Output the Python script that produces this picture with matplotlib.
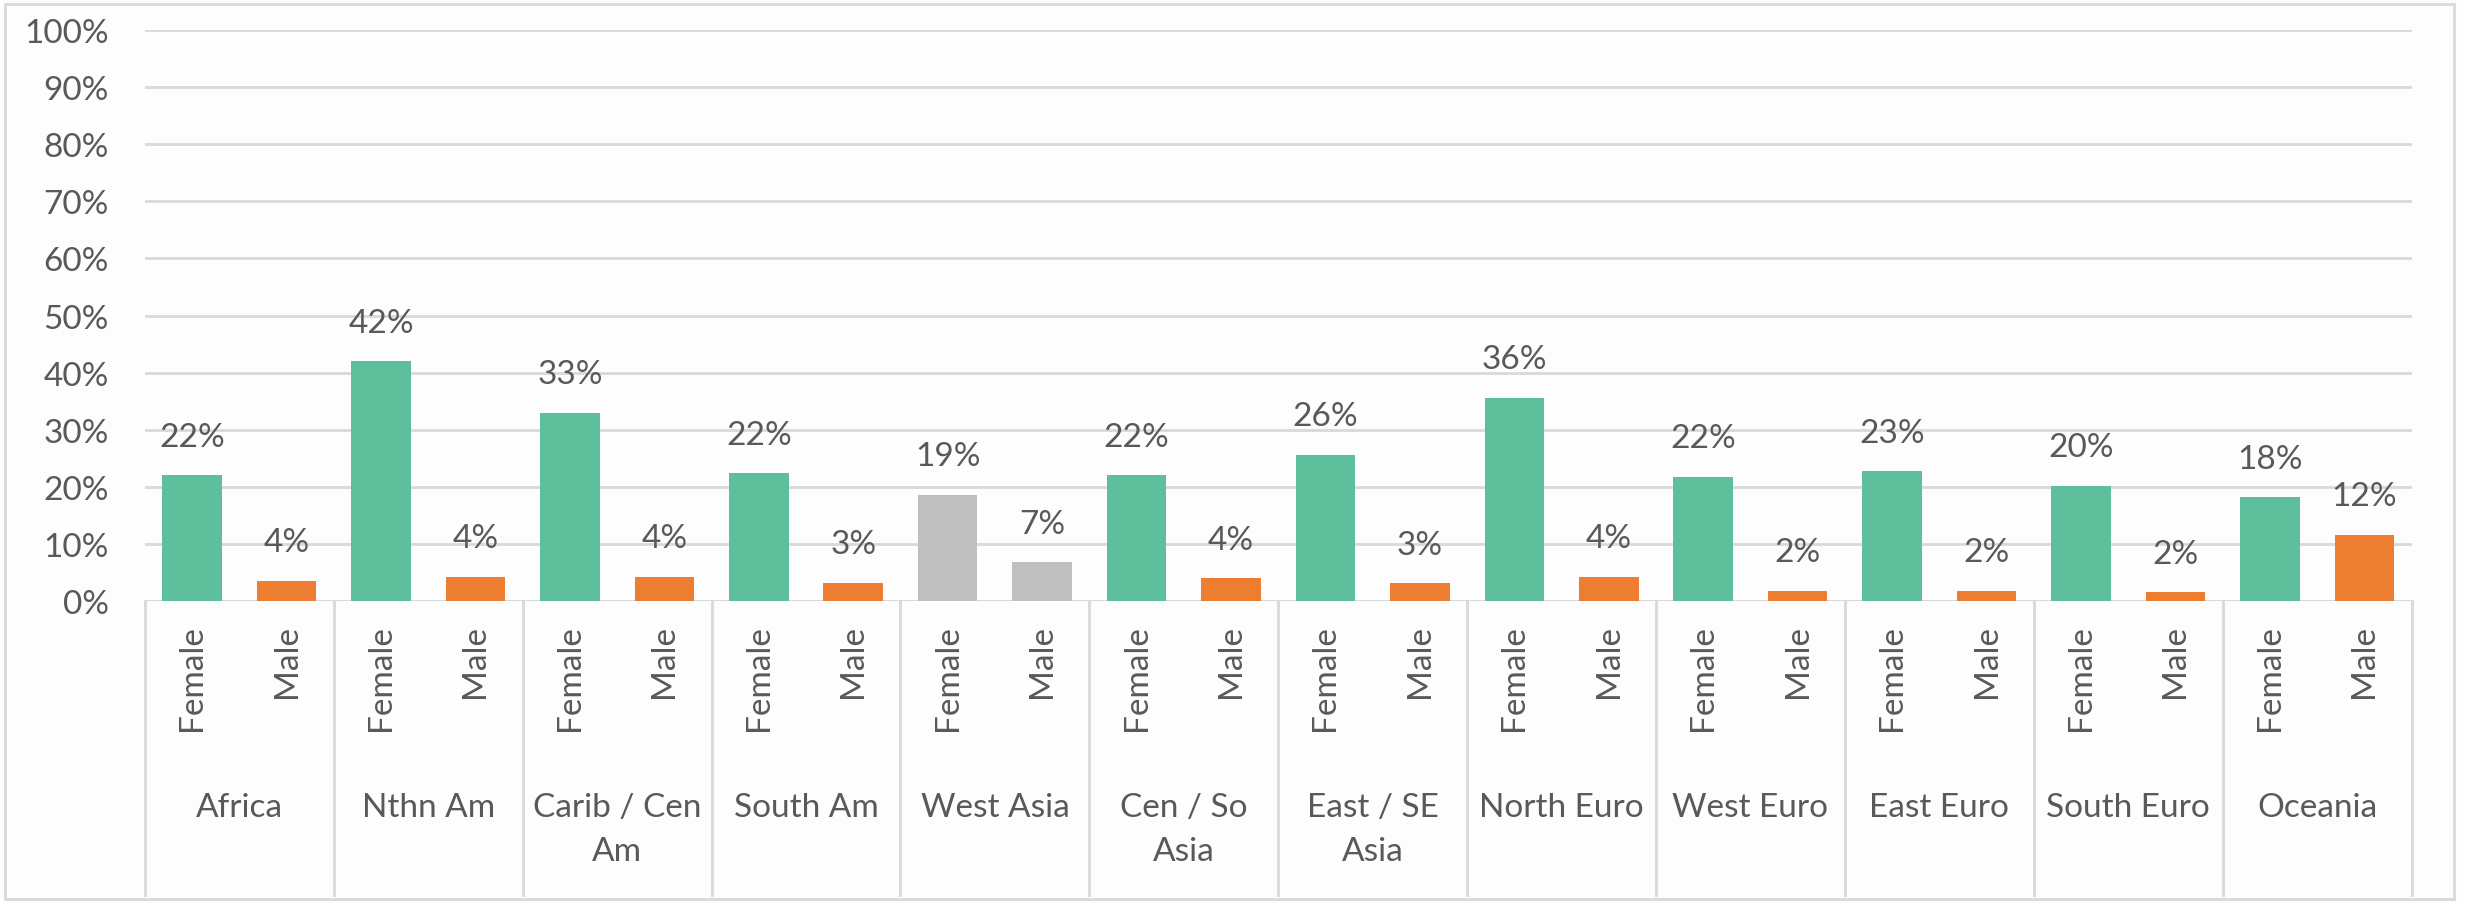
import matplotlib.pyplot as plt
from matplotlib.patches import Rectangle

# region groups and the two sexes per region
regions = ["Africa", "Nthn Am", "Carib / Cen\nAm", "South Am", "West Asia",
           "Cen / So\nAsia", "East / SE\nAsia", "North Euro", "West Euro",
           "East Euro", "South Euro", "Oceania"]
sexes = ["Female", "Male"]

female = [0.22, 0.42, 0.33, 0.224, 0.186, 0.22, 0.256, 0.356, 0.218, 0.227, 0.202, 0.182]
male = [0.036, 0.043, 0.043, 0.032, 0.068, 0.04, 0.031, 0.043, 0.018, 0.018, 0.015, 0.116]

ytick_vals = [0, 0.1, 0.2, 0.3, 0.4, 0.5, 0.6, 0.7, 0.8, 0.9, 1.0]

GREEN = "#5dbf9b"
ORANGE = "#ed7d31"
GREY_BAR = "#bfbfbf"
TXT = "#595959"
LINE = "#d9d9d9"
FS = 24

plt.rcParams["font.family"] = ["Lato", "DejaVu Sans"]

fig = plt.figure(figsize=(24.65, 9.04), dpi=100)
fig.patch.set_facecolor("#fdfdfd")
fig.add_artist(Rectangle((0.002, 0.004), 0.9935, 0.99, transform=fig.transFigure,
                         fill=False, edgecolor=LINE, linewidth=2))

ax = fig.add_axes([0.0588, 0.334, 0.9195, 0.6316])
ax.set_facecolor("none")

# bar positions: two slots per region
xs, hs, cs = [], [], []
for i in range(len(regions)):
    special = regions[i] == "West Asia"
    xs += [2 * i, 2 * i + 1]
    hs += [female[i], male[i]]
    cs += [GREY_BAR if special else GREEN, GREY_BAR if special else ORANGE]

bars = ax.bar(xs, hs, width=0.63, color=cs, zorder=3)
for b, h in zip(bars, hs):
    ax.annotate(f"{h:.0%}", (b.get_x() + b.get_width() / 2, h),
                xytext=(0, 17), textcoords="offset points",
                ha="center", va="bottom", fontsize=FS, color=TXT)

ax.set_xlim(-0.5, 2 * len(regions) - 0.5)
ax.set_ylim(0, 1)
ax.set_yticks(ytick_vals)
ax.set_yticklabels([f"{v:.0%}" for v in ytick_vals], fontsize=FS, color=TXT)
ax.tick_params(axis="y", length=0, pad=26)
ax.set_xticks([])
for s in ax.spines.values():
    s.set_visible(False)
ax.grid(axis="y", color=LINE, linewidth=2, zorder=0)
ax.axhline(0, color=LINE, linewidth=2, zorder=2)

trans = ax.get_xaxis_transform()
for i, name in enumerate(regions):
    for j, sx in enumerate(sexes):
        ax.text(2 * i + j, -0.04, sx, rotation=90, ha="center", va="top",
                fontsize=FS, color=TXT, transform=trans)
    ax.text(2 * i + 0.5, -0.335, name, ha="center", va="top", fontsize=FS,
            color=TXT, linespacing=1.55, transform=trans)
for k in range(len(regions) + 1):
    ax.plot([2 * k - 0.5, 2 * k - 0.5], [0, -0.515], color=LINE, linewidth=2,
            transform=trans, clip_on=False)

fig.savefig("out.png", dpi=100, facecolor=fig.get_facecolor())
